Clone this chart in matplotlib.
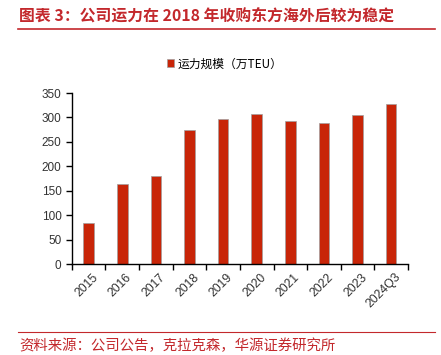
import matplotlib
matplotlib.use("Agg")
import matplotlib.pyplot as plt
import numpy as np

plt.rcParams["font.family"] = ["Liberation Sans", "Noto Sans CJK SC", "DejaVu Sans"]

RED = "#C3282C"
BAR = "#C82508"

years = ["2015", "2016", "2017", "2018", "2019", "2020", "2021", "2022", "2023", "2024Q3"]
capacity = [85, 164, 181, 275, 296, 307, 293, 288, 305, 328]

fig = plt.figure(figsize=(4.41, 3.55), dpi=100)
ax = fig.add_axes([0.163, 0.256, 0.762, 0.482])

xs = np.arange(len(years))
ax.bar(xs, capacity, width=0.32, color=BAR, edgecolor="#a0a0a0", linewidth=0.5,
       label="运力规模（万TEU）", zorder=2)
ax.set_xlim(-0.5, len(years) - 0.5)
ax.set_ylim(0, 350)
ax.set_yticks(range(0, 351, 50))
# ticks sit between categories, labels are placed by hand under each bar
ax.set_xticks(np.arange(-0.5, len(years)))
ax.set_xticklabels([])
ax.tick_params(axis="x", direction="out", length=4, width=1)
ax.tick_params(axis="y", direction="out", length=4, width=1, labelsize=8.5, labelcolor="#333333")
for x, lab in zip(xs, years):
    ax.text(x + 0.1, -14, lab, rotation=45, ha="right", va="top", fontsize=8.8,
            color="#333333", rotation_mode="anchor")
ax.spines[["top", "right"]].set_visible(False)
ax.spines["left"].set_linewidth(1)
ax.spines["bottom"].set_linewidth(1)

fig.legend(loc="center", bbox_to_anchor=(0.51, 0.82), frameon=False,
           handlelength=0.6, handleheight=0.6, handletextpad=0.3,
           prop={"family": ["Noto Sans CJK SC"], "size": 8.5})

fig.text(0.043, 0.955, "图表 3：公司运力在 2018 年收购东方海外后较为稳定", color=RED,
         fontsize=11.4, fontweight="bold", family=["Noto Sans CJK SC"], va="center", ha="left")
fig.add_artist(plt.Line2D([0.04, 0.987], [0.918, 0.918], color=RED, linewidth=1.2))
fig.add_artist(plt.Line2D([0.04, 0.987], [0.065, 0.065], color=RED, linewidth=0.8))
fig.text(0.043, 0.025, "资料来源：公司公告，克拉克森，华源证券研究所", color=RED,
         fontsize=10.4, family=["Noto Sans CJK SC"], va="center", ha="left")

fig.savefig("out.png", dpi=100)
